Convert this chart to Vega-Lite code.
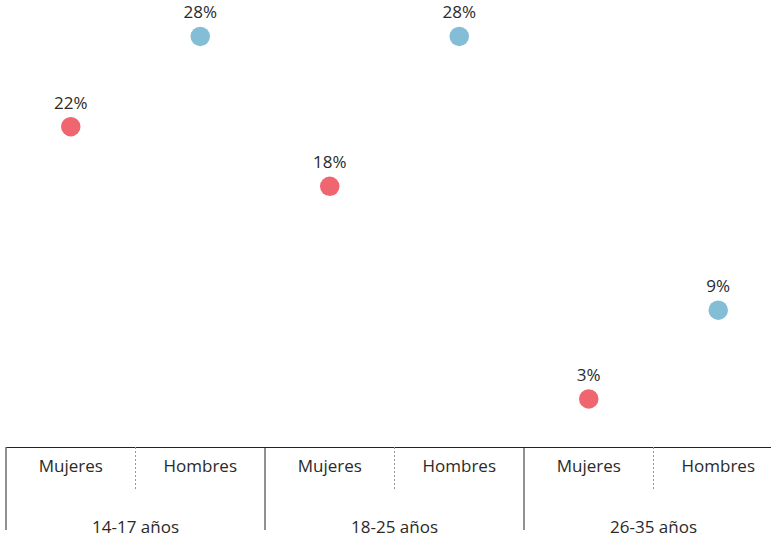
{
  "$schema": "https://vega.github.io/schema/vega-lite/v6.json",
  "padding": {"left": 5, "top": 0, "right": 0, "bottom": 0},
  "spacing": 0,
  "bounds": "flush",
  "config": {"view": {"stroke": null}, "font": "Open Sans"},
  "datasets": {
    "d": [
      {"group": "14-17 años", "gender": "Mujeres", "col": "14-17 Mujeres", "value": 0.220},
      {"group": "14-17 años", "gender": "Hombres", "col": "14-17 Hombres", "value": 0.282},
      {"group": "18-25 años", "gender": "Mujeres", "col": "18-25 Mujeres", "value": 0.179},
      {"group": "18-25 años", "gender": "Hombres", "col": "18-25 Hombres", "value": 0.282},
      {"group": "26-35 años", "gender": "Mujeres", "col": "26-35 Mujeres", "value": 0.033},
      {"group": "26-35 años", "gender": "Hombres", "col": "26-35 Hombres", "value": 0.094}
    ]
  },
  "data": {"name": "d"},
  "vconcat": [
    {
      "width": 777,
      "height": 447,
      "encoding": {
        "x": {"field": "col", "type": "nominal", "sort": null, "axis": null, "scale": {"paddingInner": 0, "paddingOuter": 0}},
        "y": {"field": "value", "type": "quantitative", "axis": null, "scale": {"domain": [0, 0.307], "nice": false, "zero": false}}
      },
      "layer": [
        {
          "mark": {"type": "circle", "size": 380, "opacity": 1},
          "encoding": {
            "color": {"field": "gender", "type": "nominal", "scale": {"domain": ["Mujeres", "Hombres"], "range": ["#EF6670", "#84BDD6"]}, "legend": null}
          }
        },
        {
          "mark": {"type": "text", "dy": -23, "fontSize": 17, "color": "#2a2a2a"},
          "encoding": {"text": {"field": "value", "type": "quantitative", "format": ".0%"}}
        }
      ]
    },
    {
      "width": 777,
      "height": 42,
      "encoding": {
        "x": {"field": "col", "type": "nominal", "sort": null, "scale": {"paddingInner": 0, "paddingOuter": 0},
              "axis": {"orient": "top", "labels": false, "ticks": false, "title": null, "domainColor": "#222", "domainWidth": 1}}
      },
      "layer": [
        {
          "mark": {"type": "rule", "strokeWidth": 1},
          "encoding": {
            "x": {"field": "col", "type": "nominal", "sort": null, "bandPosition": 0},
            "stroke": {"field": "gender", "type": "nominal", "scale": {"domain": ["Mujeres", "Hombres"], "range": ["#222222", "#999999"]}, "legend": null},
            "strokeDash": {"field": "gender", "type": "nominal", "scale": {"domain": ["Mujeres", "Hombres"], "range": [[1, 0], [2, 2]]}, "legend": null}
          }
        },
        {
          "mark": {"type": "text", "fontSize": 17, "color": "#2a2a2a", "dy": -1},
          "encoding": {"text": {"field": "gender", "type": "nominal"}}
        }
      ]
    },
    {
      "width": 777,
      "height": 41,
      "transform": [{"filter": "datum.gender === 'Mujeres'"}],
      "encoding": {
        "x": {"field": "group", "type": "nominal", "sort": null, "axis": null, "scale": {"paddingInner": 0, "paddingOuter": 0}}
      },
      "layer": [
        {
          "mark": {"type": "rule", "color": "#222", "strokeWidth": 1},
          "encoding": {"x": {"field": "group", "type": "nominal", "sort": null, "bandPosition": 0, "axis": null}}
        },
        {
          "mark": {"type": "text", "fontSize": 17, "color": "#2a2a2a", "dy": 18},
          "encoding": {"text": {"field": "group", "type": "nominal"}}
        }
      ]
    }
  ],
  "resolve": {"scale": {"x": "independent", "y": "independent"}}
}
